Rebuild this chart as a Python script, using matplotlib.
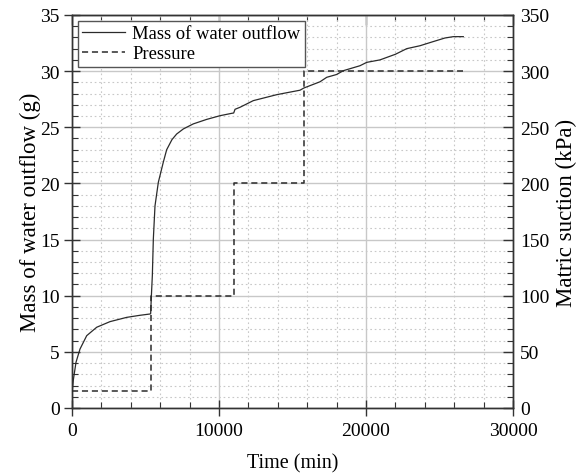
import matplotlib
matplotlib.use("Agg")
import matplotlib.pyplot as plt
from matplotlib.ticker import MultipleLocator

plt.rcParams["font.family"] = ["Liberation Serif", "DejaVu Serif"]

# ── Données ───────────────────────────────────────────────────────────────────
time_mass = [0, 30, 90, 272, 544, 1000, 1680, 2585, 3720, 4600, 5306, 5350,
             5400, 5465, 5533, 5646, 5873, 6213, 6440, 6800, 7120, 7573, 8250,
             9160, 10070, 10860, 11000, 11090, 11430, 12330, 13920, 14150,
             15510, 15780, 16870, 17330, 18000, 18460, 19590, 20050, 20950,
             22000, 22770, 23670, 24500, 25370, 25940, 26620]
mass = [1.0, 1.7, 2.5, 4.07, 5.25, 6.44, 7.19, 7.69, 8.07, 8.25, 8.37, 8.4,
        10.0, 11.78, 15.05, 18.0, 20.1, 21.9, 23.0, 23.9, 24.4, 24.85, 25.3,
        25.7, 26.03, 26.24, 26.27, 26.6, 26.78, 27.37, 27.9, 27.96,
        28.3, 28.5, 29.05, 29.45, 29.7, 30.04, 30.48, 30.78, 31.0,
        31.5, 32.0, 32.26, 32.6, 32.95, 33.07, 33.07]

time_press = [0, 5350, 5350, 11040, 11040, 15790, 15790, 26620]
pressure = [15, 15, 100, 100, 200, 200, 300, 300]

LINE_COLOR = "#2b2b2b"
GRID_COLOR = "#c8c8c8"
SPINE_COLOR = "#333333"

fig = plt.figure(figsize=(5.84, 4.77), dpi=100)
ax = fig.add_axes([0.1233, 0.1426, 0.7551, 0.8239])
ax2 = ax.twinx()

ax.plot(time_mass, mass, color=LINE_COLOR, linewidth=0.9, linestyle="-",
        label="Mass of water outflow", zorder=3)
ax2.plot(time_press, pressure, color=LINE_COLOR, linewidth=1.1,
         linestyle=(0, (4, 2.5)), label="Pressure", zorder=3)

ax.set_xlim(0, 30000)
ax.set_ylim(0, 35)
ax2.set_ylim(0, 350)

ax.xaxis.set_major_locator(MultipleLocator(10000))
ax.xaxis.set_minor_locator(MultipleLocator(2000))
ax.yaxis.set_major_locator(MultipleLocator(5))
ax.yaxis.set_minor_locator(MultipleLocator(1))
ax2.yaxis.set_major_locator(MultipleLocator(50))
ax2.yaxis.set_minor_locator(MultipleLocator(10))

ax.grid(True, which="major", color=GRID_COLOR, linewidth=1.0, zorder=0)
ax.grid(True, which="minor", color=GRID_COLOR, linewidth=0.8,
        linestyle=(0, (1.5, 2.5)), zorder=0)
ax.set_axisbelow(True)

for a in (ax, ax2):
    for s in a.spines.values():
        s.set_color(SPINE_COLOR)
        s.set_linewidth(1.0)

# axe du bas : graduations majeures traversantes, mineures vers l'intérieur
ax.tick_params(axis="x", which="major", direction="inout", length=12,
               width=1.0, labelsize=14, pad=4, top=False, colors=SPINE_COLOR,
               labelcolor="black")
ax.tick_params(axis="x", which="minor", direction="in", length=4, width=0.8,
               top=False, colors=SPINE_COLOR)
ax.tick_params(axis="y", which="major", direction="inout", length=12,
               width=1.0, labelsize=14, pad=3, right=False, colors=SPINE_COLOR,
               labelcolor="black")
ax.tick_params(axis="y", which="minor", direction="in", length=4, width=0.8,
               right=False, colors=SPINE_COLOR)
ax2.tick_params(axis="y", which="major", direction="in", length=7, width=1.0,
                labelsize=14, pad=5, colors=SPINE_COLOR, labelcolor="black")
ax2.tick_params(axis="y", which="minor", direction="in", length=4, width=0.8,
                colors=SPINE_COLOR)

# axe du haut : graduations vers l'intérieur uniquement
top = ax.secondary_xaxis("top")
top.xaxis.set_major_locator(MultipleLocator(10000))
top.xaxis.set_minor_locator(MultipleLocator(2000))
top.tick_params(which="major", direction="in", length=7, width=1.0,
                labeltop=False, colors=SPINE_COLOR)
top.tick_params(which="minor", direction="in", length=4, width=0.8,
                colors=SPINE_COLOR)
top.spines["top"].set_color(SPINE_COLOR)

ax.set_xlabel("Time (min)", fontsize=14.5, labelpad=10)
ax.set_ylabel("Mass of water outflow (g)", fontsize=16.5, labelpad=-1)
ax2.set_ylabel("Matric suction (kPa)", fontsize=16.5, labelpad=5)

h1, l1 = ax.get_legend_handles_labels()
h2, l2 = ax2.get_legend_handles_labels()
leg = ax2.legend(h1 + h2, l1 + l2, loc="upper left", fontsize=13.4,
                 fancybox=False, framealpha=1, edgecolor="#555555",
                 borderpad=0.25, labelspacing=0.15, handlelength=2.3,
                 handletextpad=0.4, borderaxespad=0.3)
leg.get_frame().set_linewidth(1.0)

fig.savefig("out.png", dpi=100, facecolor="white")
